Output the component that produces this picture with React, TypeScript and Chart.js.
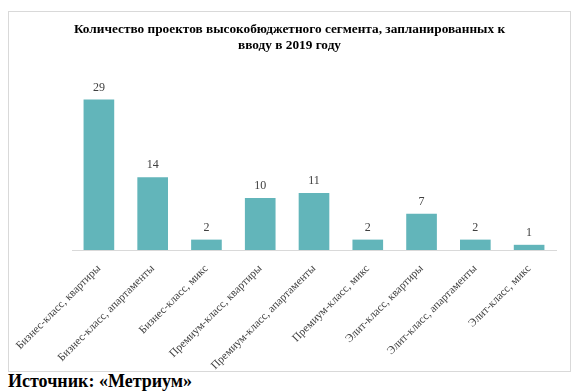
import React, { useEffect, useRef } from "react";
import { Chart, registerables } from "chart.js";

Chart.register(...registerables);

const categories = [
  "Бизнес-класс, квартиры",
  "Бизнес-класс, апартаменты",
  "Бизнес-класс, микс",
  "Премиум-класс, квартиры",
  "Премиум-класс, апартаменты",
  "Премиум-класс, микс",
  "Элит-класс, квартиры",
  "Элит-класс, апартаменты",
  "Элит-класс, микс",
];
const values = [29, 14, 2, 10, 11, 2, 7, 2, 1];
const titleLines = [
  "Количество проектов высокобюджетного сегмента, запланированных к",
  "вводу в 2019 году",
];
const sourceText = "Источник: «Метриум»";

const SERIF = "'Liberation Serif', 'Times New Roman', serif";

const valueLabels = {
  id: "valueLabels",
  afterDatasetsDraw(chart: any) {
    const ctx = chart.ctx;
    const meta = chart.getDatasetMeta(0);
    ctx.save();
    ctx.font = `12px ${SERIF}`;
    ctx.fillStyle = "#404040";
    ctx.textAlign = "center";
    ctx.textBaseline = "bottom";
    meta.data.forEach((bar: any, i: number) => {
      ctx.fillText(String(values[i]), bar.x, bar.y - 6);
    });
    ctx.restore();
  },
};

export default function App() {
  const ref = useRef<HTMLCanvasElement>(null);
  useEffect(() => {
    if (!ref.current) return;
    const chart = new Chart(ref.current, {
      type: "bar",
      data: {
        labels: categories,
        datasets: [
          {
            data: values,
            backgroundColor: "#62B5BA",
            barPercentage: 0.57,
            categoryPercentage: 1,
          },
        ],
      },
      options: {
        animation: false,
        responsive: true,
        maintainAspectRatio: false,
        layout: { padding: { left: 0, right: 0, top: 0, bottom: 0 } },
        plugins: {
          legend: { display: false },
          tooltip: { enabled: false },
          title: {
            display: true,
            text: titleLines,
            color: "#000",
            font: { family: SERIF, size: 13.3, weight: "bold", lineHeight: 1.2 },
            padding: { top: 10, bottom: 17 },
          },
        },
        scales: {
          x: {
            grid: { display: false, drawTicks: false },
            border: { display: true, color: "#d9d9d9", width: 1 },
            afterFit(scale: any) {
              scale.height = 121;
              scale.paddingLeft = 63;
              scale.paddingRight = 14;
            },
            ticks: {
              minRotation: 45,
              maxRotation: 45,
              padding: 12,
              color: "#404040",
              font: { family: SERIF, size: 11.3 },
              autoSkip: false,
            },
          },
          y: {
            display: false,
            min: 0,
            max: 34.5,
          },
        },
      },
      plugins: [valueLabels],
    });
    return () => chart.destroy();
  }, []);

  return (
    <div style={{ position: "absolute", left: 0, top: 0, width: 582, height: 392, background: "#fff" }}>
      <div
        style={{
          position: "absolute",
          left: 8,
          top: 11,
          width: 563,
          height: 361,
          border: "1px solid #d9d9d9",
          boxSizing: "border-box",
        }}
      >
        <canvas ref={ref} />
      </div>
      <div
        style={{
          position: "absolute",
          left: 8,
          top: 371,
          fontFamily: SERIF,
          fontWeight: "bold",
          fontSize: 18,
          lineHeight: "20px",
          color: "#000",
        }}
      >
        {sourceText}
      </div>
    </div>
  );
}
